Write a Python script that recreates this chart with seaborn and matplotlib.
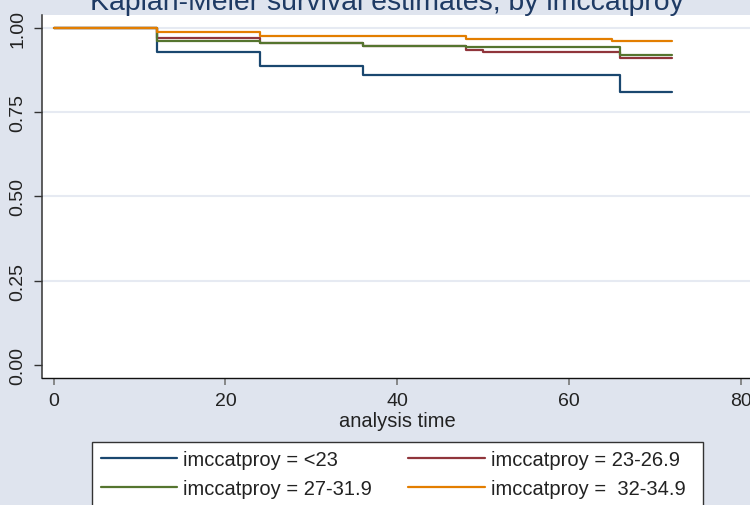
import matplotlib
matplotlib.use("Agg")
import matplotlib.pyplot as plt
from matplotlib.patches import Rectangle
import numpy as np
import pandas as pd
import seaborn as sns

# Kaplan-Meier step estimates per BMI category (time in months)
groups = ["imccatproy = <23", "imccatproy = 23-26.9",
          "imccatproy = 27-31.9", "imccatproy =  32-34.9"]
t_lt23 = [0, 12, 24, 36, 66, 72]
s_lt23 = [1.0, 0.930, 0.887, 0.862, 0.811, 0.811]
t_23 = [0, 12, 24, 36, 48, 50, 66, 72]
s_23 = [1.0, 0.972, 0.955, 0.947, 0.935, 0.930, 0.913, 0.913]
t_27 = [0, 12, 24, 36, 48, 66, 72]
s_27 = [1.0, 0.962, 0.956, 0.948, 0.944, 0.921, 0.921]
t_32 = [0, 12, 24, 48, 65, 72]
s_32 = [1.0, 0.988, 0.978, 0.968, 0.961, 0.961]

x_ticks = [0, 20, 40, 60, 80]
y_ticks = [0.0, 0.25, 0.5, 0.75, 1.0]
colors = ["#1a476f", "#90353b", "#55752f", "#e37e00"]

frames = []
for g, t, s in zip(groups, [t_lt23, t_23, t_27, t_32], [s_lt23, s_23, s_27, s_32]):
    frames.append(pd.DataFrame({"time": t, "surv": s, "group": g}))
df = pd.concat(frames, ignore_index=True)

sns.set_theme(style="white")
plt.rcParams["font.family"] = ["Liberation Sans", "DejaVu Sans"]

bg = "#dfe4ee"
W, H = 750, 506
fig = plt.figure(figsize=(W / 100, H / 100), dpi=100, facecolor=bg)

# axes in pixel terms: left spine 41.7, bottom spine 379.3, top 16
ax = fig.add_axes([41.7 / W, (H - 379.3) / H, (870 - 41.7) / W, (379.3 - 16) / H])
ax.set_facecolor("white")

sns.lineplot(data=df, x="time", y="surv", hue="group", hue_order=groups,
             palette=colors, estimator=None, drawstyle="steps-post",
             linewidth=1.6, ax=ax, legend=False)

px_per_x = 8.585
ax.set_xlim(-12.0 / px_per_x, (870 - 53.7) / px_per_x)
px_per_y = 336.4
ax.set_ylim(-(379.3 - 365.7) / px_per_y, 1 + (29.3 - 16) / px_per_y)

ax.set_xticks(x_ticks)
ax.set_yticks(y_ticks)
ax.set_yticklabels([f"{v:.2f}" for v in y_ticks], rotation=90, va="center")
ax.set_xlabel("")
ax.set_ylabel("")

ax.yaxis.grid(True, color="#e6eaf2", linewidth=1.5)
ax.xaxis.grid(False)
ax.yaxis.get_gridlines()[0].set_visible(False)
ax.set_axisbelow(True)

for side in ["top", "right"]:
    ax.spines[side].set_visible(False)
ax.spines["left"].set_color("#333333")
ax.spines["left"].set_linewidth(1.1)
ax.spines["bottom"].set_color("#111111")
ax.spines["bottom"].set_linewidth(1.0)

ax.tick_params(axis="y", direction="out", length=6, width=1.0, color="#333333",
               pad=5, labelsize=14, labelcolor="#222222", left=True)
ax.tick_params(axis="x", direction="out", length=5, width=1.2, color="#777777",
               pad=5, labelsize=14, labelcolor="#222222", bottom=True)

# title and axis title
fig.text(387 / W, (H - 10) / H, "Kaplan-Meier survival estimates, by imccatproy",
         ha="center", va="baseline", fontsize=20.4, color="#1e3a64")
fig.text(397 / W, (H - 427) / H, "analysis time", ha="center", va="baseline",
         fontsize=14.5, color="#222222")

# legend box
fig.patches.append(Rectangle((92.3 / W, -0.02), (703 - 92.3) / W, (H - 443.3) / H + 0.02,
                             transform=fig.transFigure, facecolor="white",
                             edgecolor="#333333", linewidth=1.0, zorder=1))
# legend fills column-wise, so order entries to read row-wise
order = [0, 2, 1, 3]
handles = [plt.Line2D([0], [0], color=colors[i], linewidth=1.6) for i in order]
labels = [groups[i] for i in order]
leg = fig.legend(handles, labels, loc="upper left",
                 bbox_to_anchor=(100.5 / W, (H - 451.5) / H),
                 bbox_transform=fig.transFigure, ncol=2, frameon=False,
                 fontsize=14.5, handlelength=3.8, handletextpad=0.3,
                 columnspacing=1.8, labelspacing=0.45, borderpad=0, borderaxespad=0)
for txt in leg.get_texts():
    txt.set_color("#222222")
leg.set_zorder(2)

fig.savefig("out.png", dpi=100, facecolor=bg)
